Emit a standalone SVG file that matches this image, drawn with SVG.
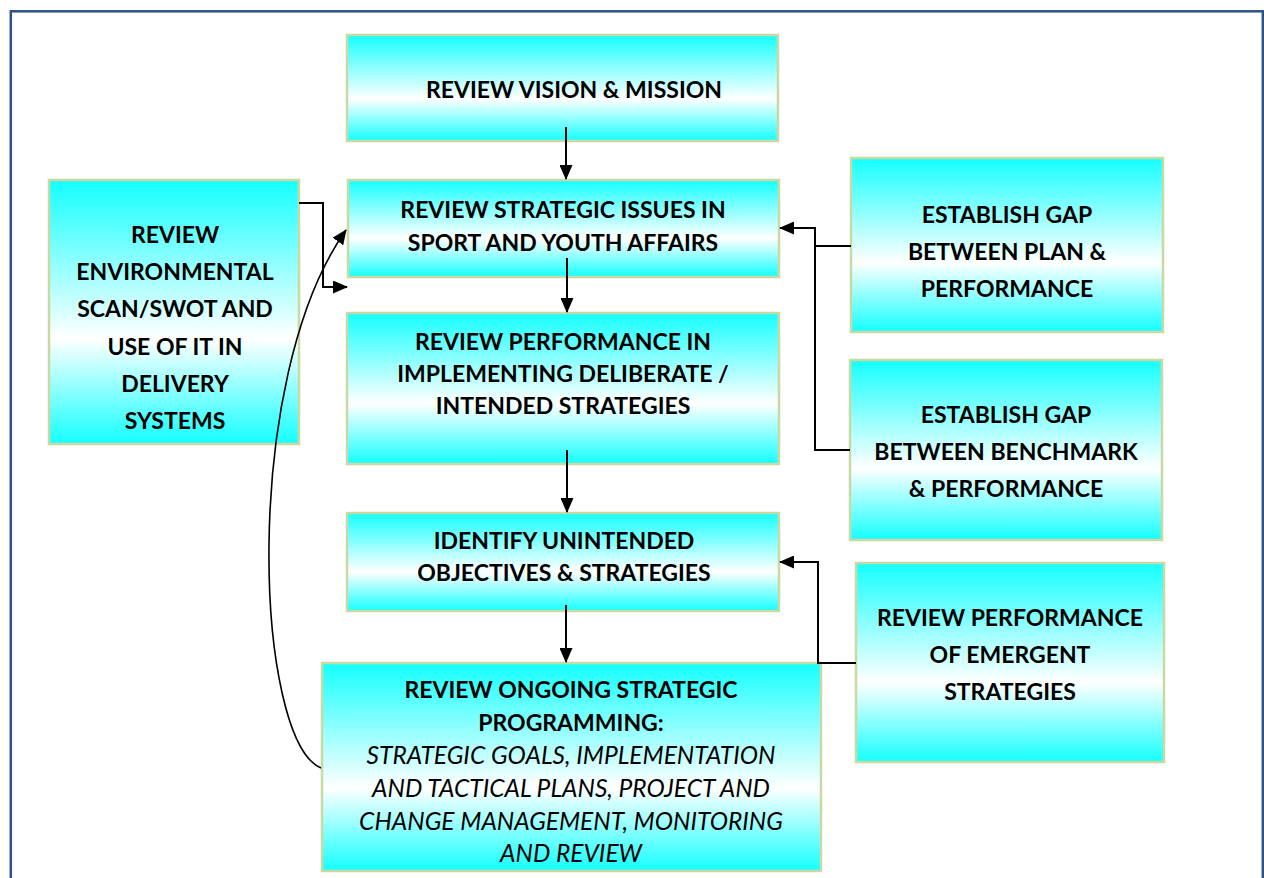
<svg xmlns="http://www.w3.org/2000/svg" width="1264" height="878" viewBox="0 0 1264 878">
<defs>
<linearGradient id="g" x1="0" y1="0" x2="0" y2="1">
<stop offset="0" stop-color="#14FFFF"/>
<stop offset="0.6" stop-color="#FFFFFF"/>
<stop offset="1" stop-color="#14FFFF"/>
</linearGradient>
<marker id="ah" viewBox="0 0 15 13" refX="14" refY="6.5" markerWidth="15" markerHeight="13" markerUnits="userSpaceOnUse" orient="auto">
<path d="M0,0 L15,6.5 L0,13 z" fill="#000"/>
</marker>
</defs>
<style>
.box{fill:url(#g);stroke:#C8DAA2;stroke-width:2.5}
.t{font-family:Lato,"Liberation Sans",sans-serif;font-weight:bold;font-size:23px;fill:#000;text-anchor:middle}
.i{font-family:Lato,"Liberation Sans",sans-serif;font-style:italic;font-size:24.5px;fill:#000;text-anchor:middle}
.c{fill:none;stroke:#000;stroke-width:2}
.cv{fill:none;stroke:#000;stroke-width:1.6}
</style>
<rect x="0" y="0" width="1264" height="878" fill="#fff"/>
<rect x="10.8" y="11.3" width="1252" height="900" fill="none" stroke="#2E5288" stroke-width="2.5"/>

<g id="n-vision">
<rect class="box" x="347" y="35" width="431" height="106"/>
<text class="t" x="574" y="98">REVIEW VISION &amp; MISSION</text>
</g>
<g id="n-issues">
<rect class="box" x="348" y="180" width="431" height="97"/>
<text class="t" x="563" y="218">REVIEW STRATEGIC ISSUES IN</text>
<text class="t" x="563" y="251">SPORT AND YOUTH AFFAIRS</text>
</g>
<g id="n-performance">
<rect class="box" x="347" y="313" width="432" height="151"/>
<text class="t" x="563" y="350">REVIEW PERFORMANCE IN</text>
<text class="t" x="563" y="382">IMPLEMENTING DELIBERATE /</text>
<text class="t" x="563" y="414">INTENDED STRATEGIES</text>
</g>
<g id="n-unintended">
<rect class="box" x="347" y="513" width="432" height="98"/>
<text class="t" x="564" y="549">IDENTIFY UNINTENDED</text>
<text class="t" x="564" y="581">OBJECTIVES &amp; STRATEGIES</text>
</g>
<g id="n-ongoing">
<rect class="box" x="322" y="663" width="499" height="208"/>
<text class="t" x="571" y="698">REVIEW ONGOING STRATEGIC</text>
<text class="t" x="571" y="731">PROGRAMMING:</text>
<text class="i" x="571" y="764">STRATEGIC GOALS, IMPLEMENTATION</text>
<text class="i" x="571" y="797">AND TACTICAL PLANS, PROJECT AND</text>
<text class="i" x="571" y="830">CHANGE MANAGEMENT, MONITORING</text>
<text class="i" x="571" y="862">AND REVIEW</text>
</g>
<g id="n-environment">
<rect class="box" x="49" y="180" width="250" height="264"/>
<text class="t" x="175" y="243">REVIEW</text>
<text class="t" x="175" y="280">ENVIRONMENTAL</text>
<text class="t" x="175" y="317">SCAN/SWOT AND</text>
<text class="t" x="175" y="355">USE OF IT IN</text>
<text class="t" x="175" y="392">DELIVERY</text>
<text class="t" x="175" y="429">SYSTEMS</text>
</g>
<g id="n-gap-plan">
<rect class="box" x="851" y="158" width="312" height="174"/>
<text class="t" x="1007" y="223">ESTABLISH GAP</text>
<text class="t" x="1007" y="260">BETWEEN PLAN &amp;</text>
<text class="t" x="1007" y="297">PERFORMANCE</text>
</g>
<g id="n-gap-benchmark">
<rect class="box" x="850" y="360" width="312" height="180"/>
<text class="t" x="1006" y="423">ESTABLISH GAP</text>
<text class="t" x="1006" y="460">BETWEEN BENCHMARK</text>
<text class="t" x="1006" y="497">&amp; PERFORMANCE</text>
</g>
<g id="n-emergent">
<rect class="box" x="856" y="563" width="308" height="199"/>
<text class="t" x="1010" y="626">REVIEW PERFORMANCE</text>
<text class="t" x="1010" y="663">OF EMERGENT</text>
<text class="t" x="1010" y="700">STRATEGIES</text>
</g>

<g id="connectors">
<path class="c" d="M566,127 V179" marker-end="url(#ah)"/>
<path class="c" d="M567,258 V312" marker-end="url(#ah)"/>
<path class="c" d="M567,450 V512" marker-end="url(#ah)"/>
<path class="c" d="M566,605 V662" marker-end="url(#ah)"/>
<path class="c" d="M299,203 H323 V287 H347" marker-end="url(#ah)"/>
<path class="cv" d="M321,768 C255,740 240,380 346,230" marker-end="url(#ah)"/>
<path class="c" d="M851,246 H815 V228 H780" marker-end="url(#ah)"/>
<path class="c" d="M850,450 H815 V246"/>
<path class="c" d="M856,663 H818 V562 H780" marker-end="url(#ah)"/>
</g>
</svg>
